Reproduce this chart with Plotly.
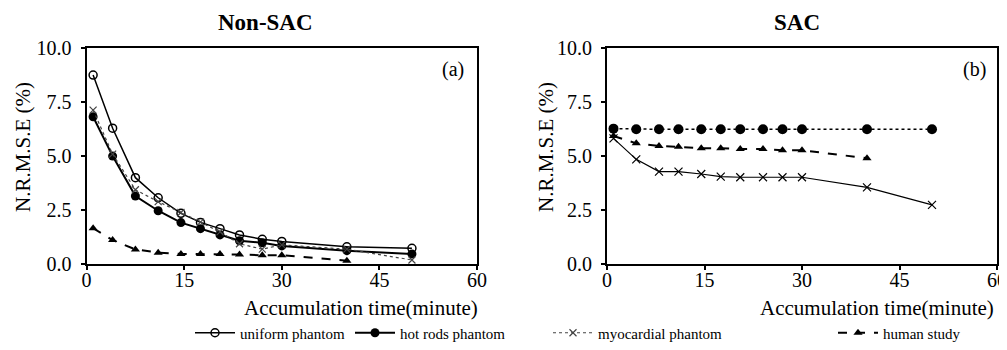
import plotly.graph_objects as go

# ---- data ----
time_nonsac = [1, 4, 7.5, 11, 14.5, 17.5, 20.5, 23.5, 27, 30, 40, 50]
uniform_nonsac = [8.76, 6.30, 4.01, 3.08, 2.36, 1.94, 1.65, 1.36, 1.16, 1.06, 0.81, 0.74]
hotrods_nonsac = [6.83, 5.01, 3.16, 2.48, 1.93, 1.65, 1.36, 1.09, 1.00, 0.85, 0.63, 0.48]
myocard_nonsac = [7.14, 5.10, 3.45, 2.90, 2.40, 1.95, 1.50, 0.95, 0.70, 0.90, 0.70, 0.20]
time_human = [1, 4, 7.5, 11, 14.5, 17.5, 20.5, 23.5, 27, 30, 40]
human_nonsac = [1.67, 1.12, 0.69, 0.54, 0.48, 0.48, 0.48, 0.45, 0.42, 0.42, 0.17]

time_sac = [1, 4.5, 8, 11, 14.5, 17.5, 20.5, 24, 27, 30, 40, 50]
hotrods_sac = [6.28, 6.25, 6.25, 6.25, 6.25, 6.25, 6.25, 6.25, 6.25, 6.25, 6.25, 6.25]
myocard_sac = [5.83, 4.86, 4.29, 4.29, 4.18, 4.06, 4.03, 4.03, 4.03, 4.03, 3.56, 2.75]
time_human_sac = [1, 4.5, 8, 11, 14.5, 17.5, 20.5, 24, 27, 30, 40]
human_sac = [5.94, 5.60, 5.48, 5.44, 5.37, 5.37, 5.34, 5.34, 5.28, 5.28, 4.91]

x_ticks = [0, 15, 30, 45, 60]
y_ticks = [0, 2.5, 5, 7.5, 10]
y_tick_text = ["0.0", "2.5", "5.0", "7.5", "10.0"]

FONT = "Liberation Serif, Times New Roman, serif"
# the page body has an 8px default margin: figure starts at (8, 8) and runs to the window's right edge
OFF = 8
W, H = 1007 - OFF, 350 - 2 * OFF


def fx(x):
    return (x - OFF) / W


def fy(y):
    return (H - (y - OFF)) / H


fig = go.Figure()

# left panel
fig.add_trace(go.Scatter(x=time_nonsac, y=uniform_nonsac, name="uniform phantom", legend="legend",
    mode="lines+markers", line=dict(color="black", width=1.5),
    marker=dict(symbol="circle-open", size=8, color="black", line=dict(width=1.5)),
    xaxis="x", yaxis="y"))
fig.add_trace(go.Scatter(x=time_nonsac, y=hotrods_nonsac, name="hot rods phantom", legend="legend2",
    mode="lines+markers", line=dict(color="black", width=2),
    marker=dict(symbol="circle", size=9, color="black"),
    xaxis="x", yaxis="y"))
fig.add_trace(go.Scatter(x=time_nonsac, y=myocard_nonsac, name="myocardial phantom", legend="legend3",
    mode="lines+markers", line=dict(color="#444", width=1.2, dash="dot"),
    marker=dict(symbol="x-thin-open", size=7, color="#444", line=dict(width=1.2, color="#444")),
    xaxis="x", yaxis="y"))
fig.add_trace(go.Scatter(x=time_human, y=human_nonsac, name="human study", legend="legend4",
    mode="lines+markers", line=dict(color="black", width=2, dash="dash"),
    marker=dict(symbol="triangle-up", size=8, color="black"),
    xaxis="x", yaxis="y"))

# right panel
fig.add_trace(go.Scatter(x=time_sac, y=hotrods_sac, showlegend=False,
    mode="lines+markers", line=dict(color="black", width=1.5, dash="dot"),
    marker=dict(symbol="circle", size=10, color="black"),
    xaxis="x2", yaxis="y2"))
fig.add_trace(go.Scatter(x=time_sac, y=myocard_sac, showlegend=False,
    mode="lines+markers", line=dict(color="black", width=1.2),
    marker=dict(symbol="x-thin-open", size=8, color="black", line=dict(width=1.2, color="black")),
    xaxis="x2", yaxis="y2"))
fig.add_trace(go.Scatter(x=time_human_sac, y=human_sac, showlegend=False,
    mode="lines+markers", line=dict(color="black", width=2, dash="dash"),
    marker=dict(symbol="triangle-up", size=8, color="black"),
    xaxis="x2", yaxis="y2"))

ydom = [fy(264.3), fy(48.3)]
axis_common = dict(showline=True, linecolor="black", linewidth=2, mirror=True,
                   ticks="outside", ticklen=4, tickwidth=1.5, tickcolor="black",
                   showgrid=False, zeroline=False, automargin=False,
                   tickfont=dict(family=FONT, size=20, color="black"))
xaxis_extra = dict(ticklabelstandoff=-7)
yaxis_extra = dict(ticklabelstandoff=5)

annotations = []
for text, (xp, yp), size, angle in [
    ("<b>Non-SAC</b>", (265, 23), 23, 0),
    ("<b>SAC</b>", (797, 23), 23, 0),
    ("Accumulation time(minute)", (361, 308), 21, 0),
    ("Accumulation time(minute)", (877, 308), 21, 0),
    ("N.R.M.S.E (%)", (23, 147), 21, -90),
    ("N.R.M.S.E (%)", (546, 147), 21, -90),
]:
    annotations.append(dict(text=text, x=fx(xp), y=fy(yp), xref="paper", yref="paper",
                            xanchor="center", yanchor="middle",
                            showarrow=False, textangle=angle,
                            font=dict(family=FONT, size=size, color="black")))
annotations.append(dict(text="(a)", x=56.3, y=9.0, xref="x", yref="y", showarrow=False,
                        xanchor="center", yanchor="middle",
                        font=dict(family=FONT, size=20, color="black")))
annotations.append(dict(text="(b)", x=56.6, y=9.0, xref="x2", yref="y2", showarrow=False,
                        xanchor="center", yanchor="middle",
                        font=dict(family=FONT, size=20, color="black")))

legend_y = 333
legend_x = {"legend": 190, "legend2": 350, "legend3": 548, "legend4": 833}
legends = {}
for key, xpos in legend_x.items():
    legends[key] = dict(orientation="h", x=fx(xpos), y=fy(legend_y), xanchor="left", yanchor="middle",
                        font=dict(family=FONT, size=15, color="black"), itemwidth=40,
                        bgcolor="rgba(0,0,0,0)", borderwidth=0)

fig.update_layout(
    width=W, height=H,
    margin=dict(l=0, r=0, t=0, b=0, autoexpand=False),
    paper_bgcolor="white", plot_bgcolor="white",
    font=dict(family=FONT, color="black"),
    xaxis=dict(domain=[fx(86.6), fx(477)], range=[0, 60], tickvals=x_ticks, anchor="y",
               **axis_common, **xaxis_extra),
    yaxis=dict(domain=ydom, range=[0, 10], tickvals=y_ticks, ticktext=y_tick_text, anchor="x",
               **axis_common, **yaxis_extra),
    xaxis2=dict(domain=[fx(607), fx(997)], range=[0, 60], tickvals=x_ticks, anchor="y2",
                **axis_common, **xaxis_extra),
    yaxis2=dict(domain=ydom, range=[0, 10], tickvals=y_ticks, ticktext=y_tick_text, anchor="x2",
                **axis_common, **yaxis_extra),
    annotations=annotations,
    **legends,
)

fig.write_html("out.html")
